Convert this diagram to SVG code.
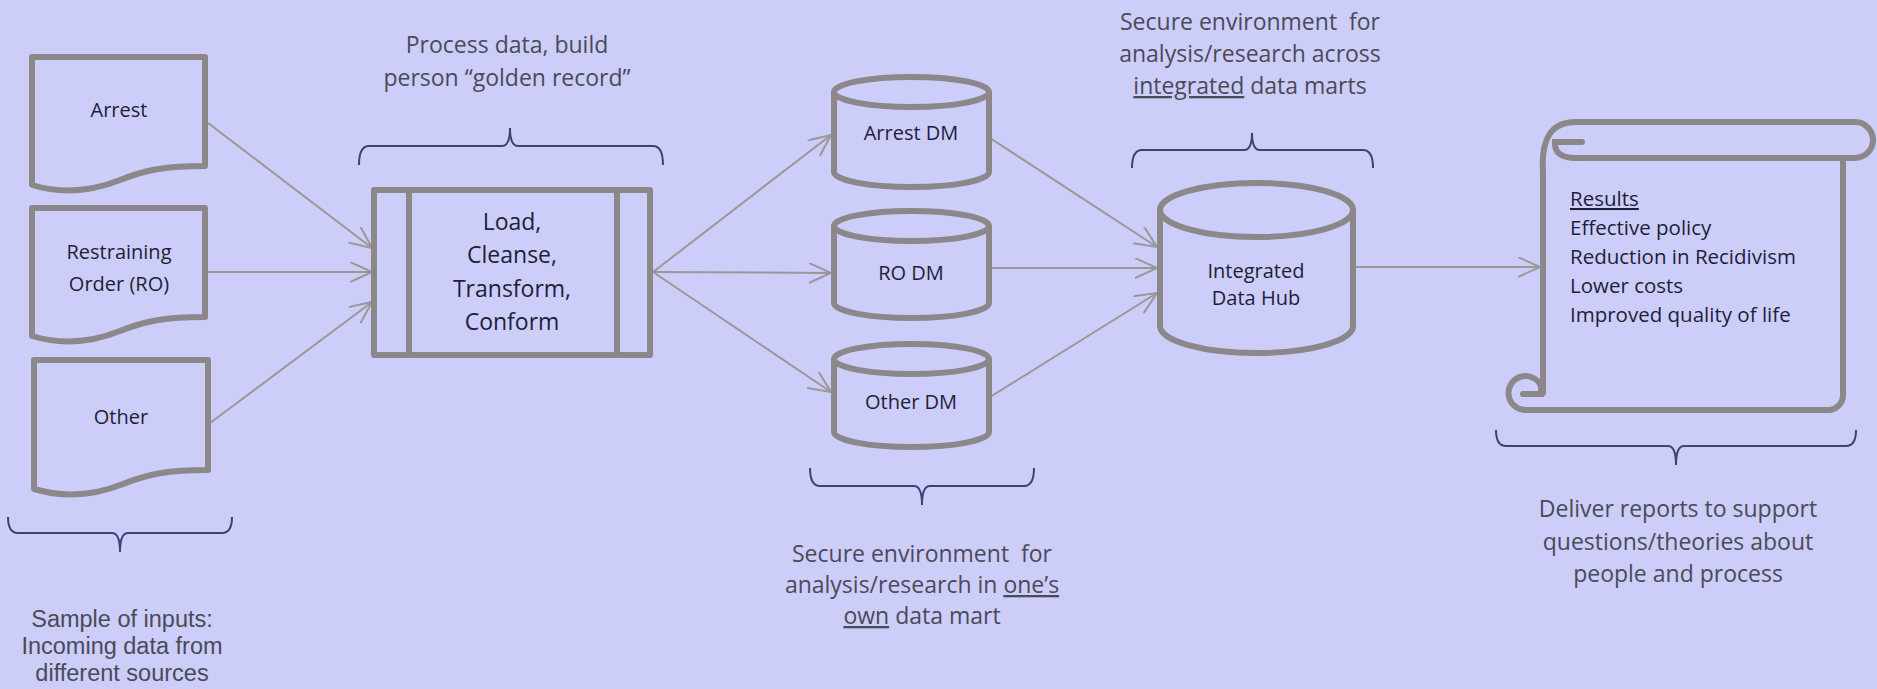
<svg xmlns="http://www.w3.org/2000/svg" width="1877" height="689" viewBox="0 0 1877 689">
<defs>
<style>
.shape{fill:#CDCDFA;stroke:#8C8788;stroke-width:6;stroke-linejoin:round}
.curl{fill:none;stroke:#8C8788;stroke-width:6;stroke-linecap:round}
.conn{fill:none;stroke:#9C9698;stroke-width:2;marker-end:url(#arr)}
.brace{fill:none;stroke:#3F4270;stroke-width:2}
.nt{font-family:"Open Sans","DejaVu Sans",sans-serif;font-size:20px;fill:#1E1E38;text-anchor:middle}
.pt{font-family:"Open Sans","DejaVu Sans",sans-serif;font-size:23px;fill:#1E1E38;text-anchor:middle}
.rt{font-family:"Open Sans","DejaVu Sans",sans-serif;font-size:20.5px;fill:#1E1E38}
.cap{font-family:"Open Sans","DejaVu Sans",sans-serif;font-size:23px;fill:#4A4A58;text-anchor:middle}
.capt{font-family:"Liberation Sans",Arial,sans-serif;font-size:23.5px;fill:#4A4A58;text-anchor:middle}
</style>
<marker id="arr" markerUnits="userSpaceOnUse" markerWidth="26" markerHeight="24" refX="22" refY="10" orient="auto">
<path d="M0,0 L22,10 L0,20" fill="none" stroke="#9C9698" stroke-width="2"/>
</marker>
</defs>
<rect width="1877" height="689" fill="#CDCDFA"/>

<g id="connectors">
<line class="conn" x1="208" y1="123" x2="372" y2="248"/>
<line class="conn" x1="208" y1="272" x2="372" y2="272"/>
<line class="conn" x1="210" y1="423" x2="372" y2="302"/>
<line class="conn" x1="653" y1="272" x2="831" y2="135"/>
<line class="conn" x1="653" y1="272" x2="831" y2="273"/>
<line class="conn" x1="653" y1="272" x2="831" y2="392"/>
<line class="conn" x1="990" y1="138" x2="1157" y2="247"/>
<line class="conn" x1="990" y1="268" x2="1157" y2="268"/>
<line class="conn" x1="990" y1="397" x2="1157" y2="293"/>
<line class="conn" x1="1356" y1="267" x2="1540" y2="267"/>
</g>

<g id="doc-arrest">
<path class="shape" d="M32,57 H205 V166 C165,166 145,170 120,180 C95,190 65,195 32,185 Z"/>
<text class="nt" x="119" y="117">Arrest</text>
</g>
<g id="doc-ro">
<path class="shape" d="M32,208 H205 V317 C165,317 145,321 120,331 C95,341 65,346 32,336 Z"/>
<text class="nt" x="119" y="259">Restraining</text>
<text class="nt" x="119" y="291">Order (RO)</text>
</g>
<g id="doc-other">
<path class="shape" d="M34,360 H208 V470 C168,470 148,474 123,484 C98,494 68,499 34,489 Z"/>
<text class="nt" x="121" y="424">Other</text>
</g>

<g id="process">
<rect class="shape" x="374" y="190" width="276" height="165"/>
<line class="curl" x1="409" y1="190" x2="409" y2="355"/>
<line class="curl" x1="617" y1="190" x2="617" y2="355"/>
<text class="pt" x="512" y="230">Load,</text>
<text class="pt" x="512" y="263">Cleanse,</text>
<text class="pt" x="512" y="297">Transform,</text>
<text class="pt" x="512" y="330">Conform</text>
</g>

<g id="dm-arrest">
<path class="shape" d="M834,92 V172 A77.5,15 0 0 0 989,172 V92"/>
<ellipse class="shape" cx="911.5" cy="92" rx="77.5" ry="15"/>
<text class="nt" x="911" y="140">Arrest DM</text>
</g>
<g id="dm-ro">
<path class="shape" d="M834,226 V303 A77.5,15 0 0 0 989,303 V226"/>
<ellipse class="shape" cx="911.5" cy="226" rx="77.5" ry="15"/>
<text class="nt" x="911" y="280">RO DM</text>
</g>
<g id="dm-other">
<path class="shape" d="M834,359 V432 A77.5,15 0 0 0 989,432 V359"/>
<ellipse class="shape" cx="911.5" cy="359" rx="77.5" ry="15"/>
<text class="nt" x="911" y="409">Other DM</text>
</g>

<g id="hub">
<path class="shape" d="M1160,210 V326 A96.5,27 0 0 0 1353,326 V210"/>
<ellipse class="shape" cx="1256.5" cy="210" rx="96.5" ry="27"/>
<text class="nt" x="1256" y="278">Integrated</text>
<text class="nt" x="1256" y="305">Data Hub</text>
</g>

<g id="results">
<path class="shape" d="M1543,175 V393 L1525,410 H1828 A15,15 0 0 0 1843,395 V158 H1855 A18,18 0 0 0 1855,122 H1575 C1552,122 1543,140 1543,175 Z" style="stroke:none"/>
<path class="curl" d="M1543,172 V393"/>
<path class="curl" d="M1525,410 H1828 A15,15 0 0 0 1843,395 V158"/>
<path class="curl" d="M1543,172 C1541,140 1550,122 1576,122 H1855 A18,18 0 0 1 1855,158 H1576"/>
<path class="curl" d="M1582,142 H1555 C1554,153 1562,158 1576,158"/>
<path class="curl" d="M1525,410 A17,17 0 1 1 1541,386"/>
<path class="curl" d="M1523,394 H1541 V386"/>
<text class="rt" x="1570" y="206"><tspan text-decoration="underline">Results</tspan></text>
<text class="rt" x="1570" y="235">Effective policy</text>
<text class="rt" x="1570" y="264">Reduction in Recidivism</text>
<text class="rt" x="1570" y="293">Lower costs</text>
<text class="rt" x="1570" y="322">Improved quality of life</text>
</g>

<g id="brace-inputs">
<path class="brace" d="M8,517 Q8,533 18,533 H112 Q120,533 120,552 Q120,533 128,533 H222 Q232,533 232,517"/>
<text class="capt" x="122" y="627">Sample of inputs:</text>
<text class="capt" x="122" y="654">Incoming data from</text>
<text class="capt" x="122" y="681">different sources</text>
</g>
<g id="brace-process">
<path class="brace" d="M359,165 Q359,146 369,146 H502 Q510,146 510,128 Q510,146 518,146 H653 Q663,146 663,165"/>
<text class="cap" x="507" y="53">Process data, build</text>
<text class="cap" x="507" y="86">person “golden record”</text>
</g>
<g id="brace-dm">
<path class="brace" d="M810,468 Q810,486 820,486 H914 Q922,486 922,505 Q922,486 930,486 H1024 Q1034,486 1034,468"/>
<text class="cap" x="922" y="562">Secure environment&#160; for</text>
<text class="cap" x="922" y="593">analysis/research in <tspan text-decoration="underline">one’s</tspan></text>
<text class="cap" x="922" y="624"><tspan text-decoration="underline">own</tspan> data mart</text>
</g>
<g id="brace-hub">
<path class="brace" d="M1132,168 Q1132,150 1142,150 H1244 Q1252,150 1252,133 Q1252,150 1260,150 H1363 Q1373,150 1373,168"/>
<text class="cap" x="1250" y="30">Secure environment&#160; for</text>
<text class="cap" x="1250" y="62">analysis/research across</text>
<text class="cap" x="1250" y="94"><tspan text-decoration="underline">integrated</tspan> data marts</text>
</g>
<g id="brace-results">
<path class="brace" d="M1496,430 Q1496,446 1506,446 H1668 Q1676,446 1676,465 Q1676,446 1684,446 H1846 Q1856,446 1856,430"/>
<text class="cap" x="1678" y="517">Deliver reports to support</text>
<text class="cap" x="1678" y="550">questions/theories about</text>
<text class="cap" x="1678" y="582">people and process</text>
</g>
</svg>
